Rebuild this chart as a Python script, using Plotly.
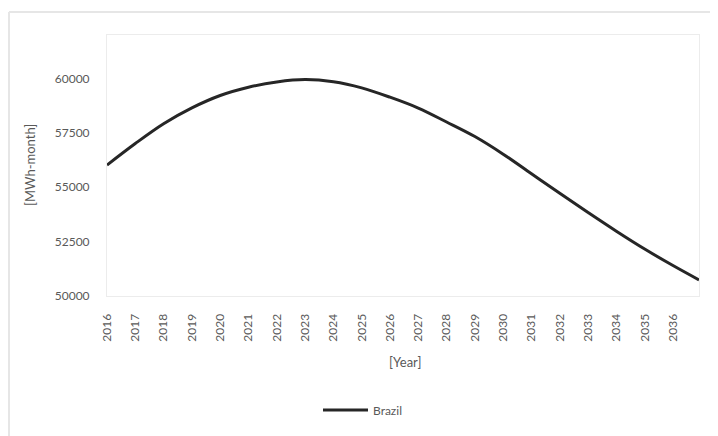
import plotly.graph_objects as go

# Data (yearly values, last point = end of 2036)
years = [2016, 2017, 2018, 2019, 2020, 2021, 2022, 2023, 2024, 2025, 2026,
         2027, 2028, 2029, 2030, 2031, 2032, 2033, 2034, 2035, 2036, 2036.92]
brazil = [56020, 57010, 57920, 58650, 59220, 59600, 59840, 59950, 59850, 59570, 59140,
          58640, 58000, 57330, 56520, 55620, 54720, 53840, 52980, 52160, 51400, 50740]
tick_years = list(range(2016, 2037))
y_ticks = [50000, 52500, 55000, 57500, 60000]

OFF = 8  # page body margin
W, H = 718 - OFF, 436 - OFF
L, R, T, B = 107 - OFF, 19, 35 - OFF, 140
pw, ph = W - L - R, H - T - B

def px(x):
    return (x - OFF - L) / pw

def py(y):
    return (H - B - (y - OFF)) / ph

font_family = "Lato, 'Open Sans', sans-serif"
gray = "#595959"

fig = go.Figure()
fig.add_trace(go.Scatter(
    x=years, y=brazil, mode="lines", name="Brazil",
    line=dict(color="#262626", width=3, shape="spline", smoothing=1.0),
))

fig.update_layout(
    width=W, height=H,
    margin=dict(l=L, r=R, t=T, b=B),
    paper_bgcolor="white", plot_bgcolor="white",
    font=dict(family=font_family, color=gray, size=12),
    showlegend=True,
    legend=dict(orientation="h", x=px(318), xanchor="left", y=py(410), yanchor="middle",
                font=dict(size=12, color=gray), bgcolor="rgba(0,0,0,0)",
                itemwidth=45),
    xaxis=dict(
        range=[2016, 2036.92], tickmode="array", tickvals=tick_years,
        ticktext=[str(y) for y in tick_years], tickangle=-90,
        showgrid=False, zeroline=False, showline=True, linecolor="#ececec",
        linewidth=1, mirror=True, ticks="", ticklabelstandoff=12,
        tickfont=dict(size=12, color=gray),
    ),
    yaxis=dict(
        range=[50000, 62000], tickmode="array", tickvals=y_ticks,
        tickformat="d",
        showgrid=False, zeroline=False, showline=True, linecolor="#ececec",
        linewidth=1, mirror=True, ticks="", ticklabelstandoff=14,
        tickfont=dict(size=12, color=gray),
    ),
    shapes=[
        dict(type="line", xref="paper", yref="paper", x0=px(9), x1=px(730),
             y0=py(12), y1=py(12), line=dict(color="#e6e6e6", width=2)),
        dict(type="line", xref="paper", yref="paper", x0=px(9), x1=px(9),
             y0=py(12), y1=py(450), line=dict(color="#e6e6e6", width=2)),
    ],
    annotations=[
        dict(text="[MWh-month]", xref="paper", yref="paper", x=px(30), y=py(165),
             textangle=-90, showarrow=False, font=dict(size=13, color=gray),
             xanchor="center", yanchor="middle"),
        dict(text="[Year]", xref="paper", yref="paper", x=px(405), y=py(362),
             showarrow=False, font=dict(size=13, color=gray),
             xanchor="center", yanchor="middle"),
    ],
)

fig.write_html("out.html")
